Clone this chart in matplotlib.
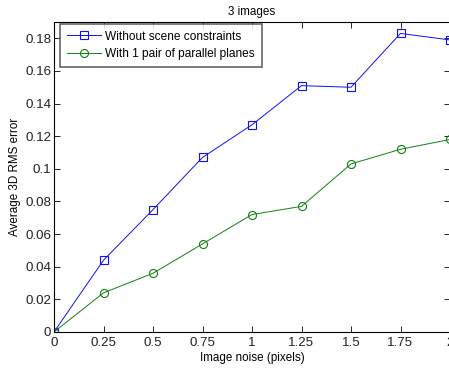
import matplotlib
matplotlib.use("Agg")
import matplotlib.pyplot as plt

noise = [0, 0.25, 0.5, 0.75, 1, 1.25, 1.5, 1.75, 2]
no_constraints = [0, 0.044, 0.075, 0.107, 0.127, 0.151, 0.150, 0.183, 0.179]
parallel_planes = [0, 0.024, 0.036, 0.054, 0.072, 0.077, 0.103, 0.112, 0.118]
xtick_labels = ["0", "0.25", "0.5", "0.75", "1", "1.25", "1.5", "1.75", "2"]
yticks = [0, 0.02, 0.04, 0.06, 0.08, 0.1, 0.12, 0.14, 0.16, 0.18]
ytick_labels = ["0", "0.02", "0.04", "0.06", "0.08", "0.1", "0.12", "0.14", "0.16", "0.18"]

plt.rcParams["font.family"] = ["Liberation Sans", "DejaVu Sans"]
plt.rcParams["font.size"] = 8.5

W, H = 449, 371
fig = plt.figure(figsize=(W / 100, H / 100), dpi=100)
ax = fig.add_axes([54 / W, (H - 332) / H, (450 - 54) / W, (332 - 22) / H])

ax.plot(noise, no_constraints, color="#1010f0", lw=0.7, marker="s", ms=5.8,
        mfc="none", mec="#1010f0", mew=0.8, label="Without scene constraints")
ax.plot(noise, parallel_planes, color="#108010", lw=0.7, marker="o", ms=5.8,
        mfc="none", mec="#108010", mew=0.8, label="With 1 pair of parallel planes")

ax.set_xlim(0, 2)
ax.set_ylim(0, 0.19)
ax.set_xticks(noise)
ax.set_xticklabels(xtick_labels)
ax.set_yticks(yticks)
ax.set_yticklabels(ytick_labels)
ax.tick_params(direction="in", top=True, right=True, length=4, width=0.6,
               labelsize=9.6, pad=2, labelcolor="#222222")
ax.tick_params(axis="x", pad=3.5)
for s in ax.spines.values():
    s.set_linewidth(0.8)

ax.set_title("3 images", fontsize=8.4, pad=5)
ax.set_xlabel("Image noise (pixels)", fontsize=8.4, labelpad=2)
ax.set_ylabel("Average 3D RMS error", fontsize=8.4, labelpad=3)

leg = ax.legend(loc="upper left", bbox_to_anchor=(6 / 396, 1 - 2 / 310),
                borderaxespad=0, fontsize=8.6, frameon=True, fancybox=False,
                handlelength=2.85, labelspacing=0.45, borderpad=0.55,
                handletextpad=0.4)
leg.get_frame().set_edgecolor("#404040")
leg.get_frame().set_linewidth(1.2)

fig.savefig("out.png", dpi=100)
